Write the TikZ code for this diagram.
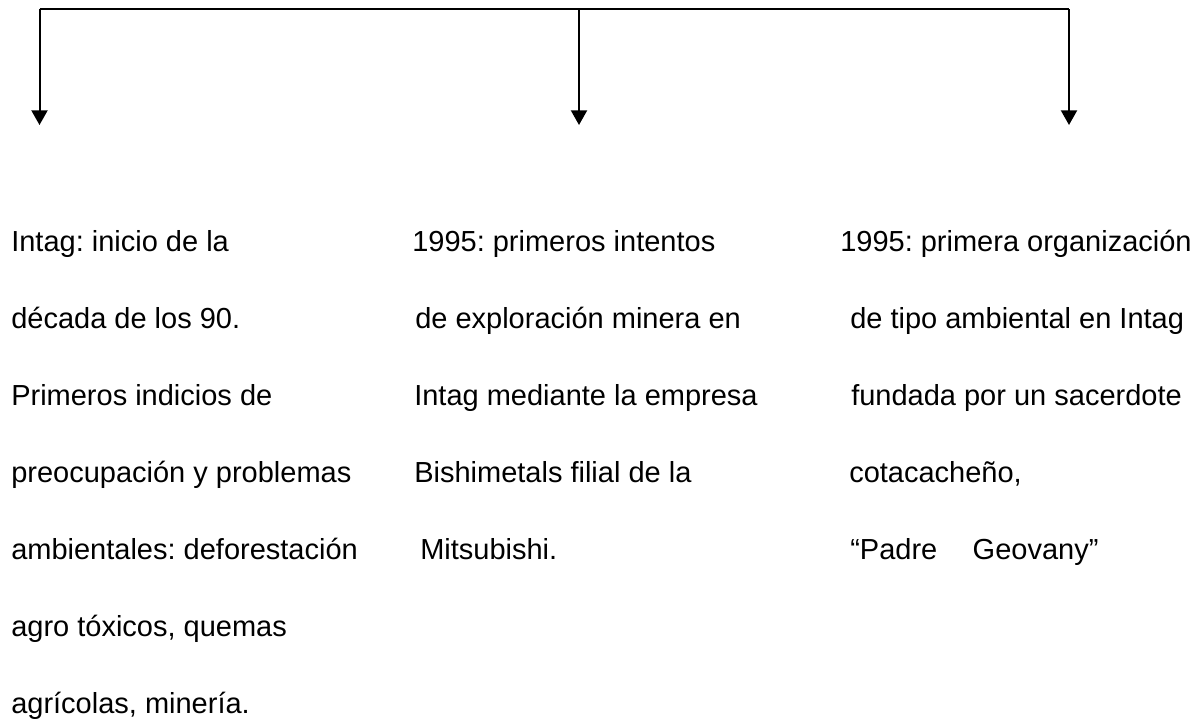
\documentclass[tikz,border=0pt]{standalone}
\usepackage{fontspec}
\setmainfont{Liberation Sans}
\usetikzlibrary{arrows.meta}
\frenchspacing
\tikzset{
  arr/.style={-{Triangle[length=11pt,width=12pt]},line width=1.5pt},
  bar/.style={line width=1.5pt},
  lbl/.style={anchor=base west,inner sep=0pt,font=\fontsize{21.75}{26}\selectfont}
}

\begin{document}
\begin{tikzpicture}[x=0.75pt,y=-0.75pt]
\useasboundingbox (0,0) rectangle (1202,721);
% top bar and its three drops
\coordinate (tl) at (39.5,9);
\coordinate (tm) at (579,9);
\coordinate (tr) at (1069,9);
\coordinate (el) at (39.5,125);
\coordinate (em) at (579,125);
\coordinate (er) at (1069,125);
\draw[bar] (tl) -- (tr);
\draw[arr] (tl) -- (el);
\draw[arr] (tm) -- (em);
\draw[arr] (tr) -- (er);
% left column
\foreach \i/\t in {0/{Intag: inicio de la},1/{década de los 90.},2/{Primeros indicios de},
  3/{preocupación y problemas},4/{ambientales: deforestación},5/{agro tóxicos, quemas},
  6/{agrícolas, minería.}}
  \node[lbl] (l\i) at (11,{251+77*\i}) {\t};
% middle column
\node[lbl] (m0) at (412,251) {1995: primeros intentos};
\node[lbl] (m1) at (415,328) {de exploración minera en};
\node[lbl] (m2) at (414,405) {Intag mediante la empresa};
\node[lbl] (m3) at (414,482) {Bishimetals filial de la};
\node[lbl] (m4) at (420,559) {Mitsubishi.};
% right column
\node[lbl] (r0) at (840,251) {1995: primera organización};
\node[lbl] (r1) at (850,328) {de tipo ambiental en Intag};
\node[lbl] (r2) at (851,405) {fundada por un sacerdote};
\node[lbl] (r3) at (849,482) {cotacacheño,};
\node[lbl] (r4) at (850,559) {“Padre\hspace{26.6pt}Geovany”};
\end{tikzpicture}
\end{document}
